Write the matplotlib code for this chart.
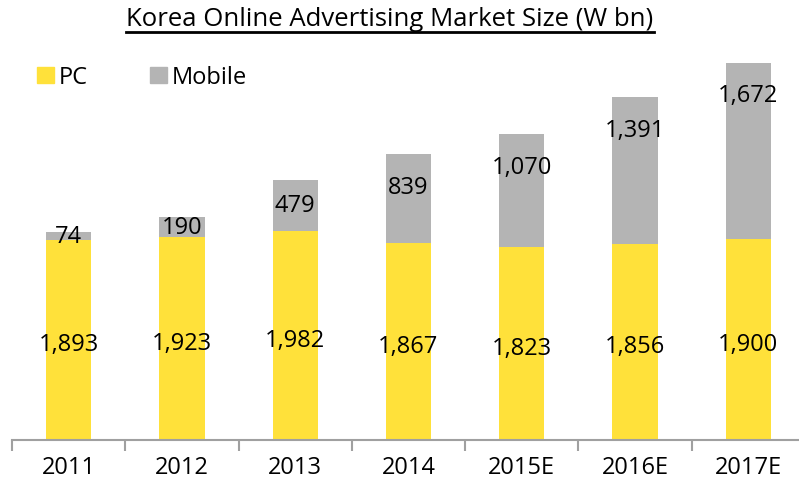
import matplotlib
matplotlib.use('Agg')
import matplotlib.pyplot as plt
from matplotlib.patches import Patch
from matplotlib.lines import Line2D

plt.rcParams['font.family'] = ['Open Sans', 'DejaVu Sans']

years = ['2011', '2012', '2013', '2014', '2015E', '2016E', '2017E']
pc = [1893, 1923, 1982, 1867, 1823, 1856, 1900]
mobile = [74, 190, 479, 839, 1070, 1391, 1672]

yellow = '#FFE13A'
grey = '#B4B4B4'

fig = plt.figure(figsize=(7.99, 4.85), dpi=100)
ax = fig.add_axes([12 / 799, 44 / 485, 793 / 799, 391 / 485])

x = range(len(years))
ax.bar(x, pc, width=0.4, color=yellow)
ax.bar(x, mobile, width=0.4, bottom=pc, color=grey)

for i in x:
    ax.text(i, pc[i] / 2 - 40, f'{pc[i]:,}', ha='center', va='center', fontsize=17)
    top = pc[i] + mobile[i]
    ym = max(pc[i] + mobile[i] / 2, top - 310)
    ax.text(i, ym, f'{mobile[i]:,}', ha='center', va='center', fontsize=17)

ax.set_xlim(-0.5, len(years) - 0.5)
ax.set_ylim(0, 3700)
ax.set_yticks([])
ax.set_xticks([i - 0.5 for i in range(len(years) + 1)], minor=False)
ax.set_xticklabels([])
ax.set_xticks(list(x), minor=True)
ax.set_xticklabels(years, minor=True, fontsize=17)
ax.tick_params(axis='x', which='major', length=8, color='#A0A0A0', width=1.5)
ax.tick_params(axis='x', which='minor', length=0, pad=11)
for s in ['top', 'right', 'left']:
    ax.spines[s].set_visible(False)
ax.spines['bottom'].set_color('#A0A0A0')
ax.spines['bottom'].set_linewidth(1.5)

handles = [Patch(color=yellow), Patch(color=grey)]
ax.legend(handles, ['PC', 'Mobile'], loc='upper left', bbox_to_anchor=(16 / 793, 0.982),
          ncol=2, frameon=False, fontsize=17, handlelength=0.7, handleheight=0.7,
          handletextpad=0.2, columnspacing=2.65, borderaxespad=0)

t = fig.text(390 / 799, 1 - 20 / 485, 'Korea Online Advertising Market Size (W bn)',
             ha='center', va='center', fontsize=18.5)
fig.canvas.draw()
bb = t.get_window_extent().transformed(fig.transFigure.inverted())
fig.add_artist(Line2D([bb.x0, bb.x1], [1 - 33 / 485] * 2, color='black', lw=2,
                      transform=fig.transFigure))

fig.savefig('out.png', dpi=100)
